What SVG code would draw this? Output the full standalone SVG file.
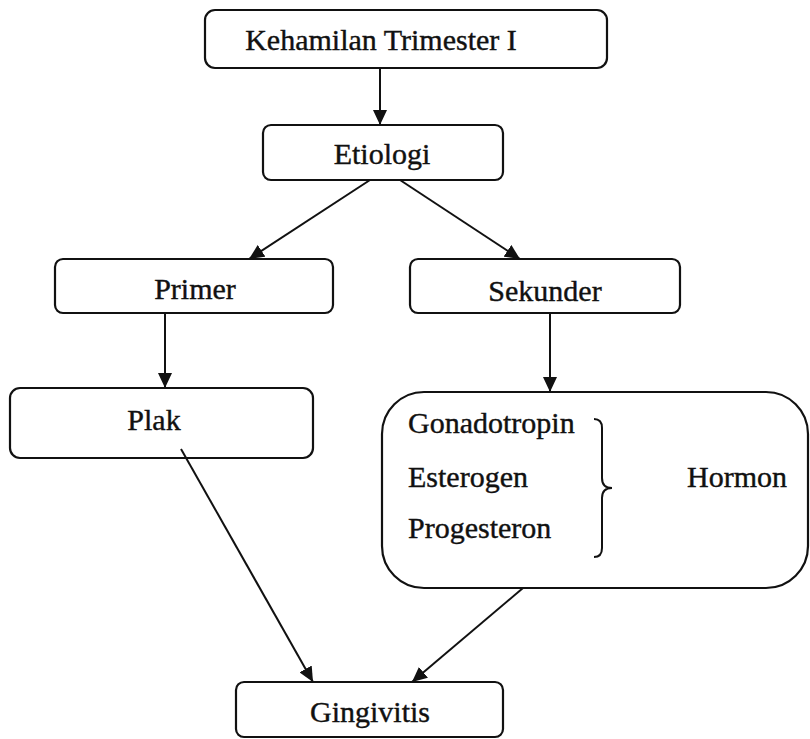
<svg xmlns="http://www.w3.org/2000/svg" width="810" height="739" viewBox="0 0 810 739">
<style>
.box{fill:#fff;stroke:#111;stroke-width:2.2}
.t{font-family:"Liberation Serif","Times New Roman",serif;font-size:30px;fill:#111;stroke:#111;stroke-width:0.4}
.c{text-anchor:middle}
.ln{stroke:#111;stroke-width:2;fill:none}
</style>
<defs>
<marker id="ah" viewBox="0 0 15 14" refX="15" refY="7" markerWidth="15" markerHeight="14" markerUnits="userSpaceOnUse" orient="auto">
<path d="M0,0 L15,7 L0,14 Z" fill="#111"/>
</marker>
</defs>
<rect width="810" height="739" fill="#fff"/>
<g id="kehamilan">
<rect class="box" x="205" y="10" width="402" height="58" rx="10"/>
<text class="t c" x="381" y="50">Kehamilan Trimester I</text>
</g>
<g id="etiologi">
<rect class="box" x="263" y="125" width="240" height="55" rx="8"/>
<text class="t c" x="382" y="164">Etiologi</text>
</g>
<g id="primer">
<rect class="box" x="55" y="259" width="278" height="54" rx="8"/>
<text class="t c" x="195" y="299">Primer</text>
</g>
<g id="sekunder">
<rect class="box" x="410" y="259" width="270" height="54" rx="8"/>
<text class="t c" x="545" y="301">Sekunder</text>
</g>
<g id="plak">
<rect class="box" x="10" y="388" width="303" height="70" rx="10"/>
<text class="t c" x="154" y="430">Plak</text>
</g>
<g id="hormon">
<rect class="box" x="382" y="392" width="426" height="196" rx="42"/>
<text class="t" x="408" y="433">Gonadotropin</text>
<text class="t" x="408" y="487">Esterogen</text>
<text class="t" x="408" y="538">Progesteron</text>
<path class="ln" d="M594,419 Q602,419 602,428 L602,478 Q602,488 612,488 Q602,488 602,498 L602,548 Q602,557 594,557"/>
<text class="t" x="687" y="487">Hormon</text>
</g>
<g id="gingivitis">
<rect class="box" x="236" y="682" width="267" height="55" rx="8"/>
<text class="t c" x="370" y="722">Gingivitis</text>
</g>
<g id="connectors">
<line class="ln" x1="380" y1="68" x2="380" y2="125" marker-end="url(#ah)"/>
<line class="ln" x1="370" y1="180" x2="249" y2="259" marker-end="url(#ah)"/>
<line class="ln" x1="400" y1="180" x2="520" y2="259" marker-end="url(#ah)"/>
<line class="ln" x1="165" y1="313" x2="165" y2="388" marker-end="url(#ah)"/>
<line class="ln" x1="550" y1="313" x2="550" y2="392" marker-end="url(#ah)"/>
<line class="ln" x1="181" y1="449" x2="313" y2="682" marker-end="url(#ah)"/>
<line class="ln" x1="523" y1="588" x2="412" y2="682" marker-end="url(#ah)"/>
</g>
</svg>
